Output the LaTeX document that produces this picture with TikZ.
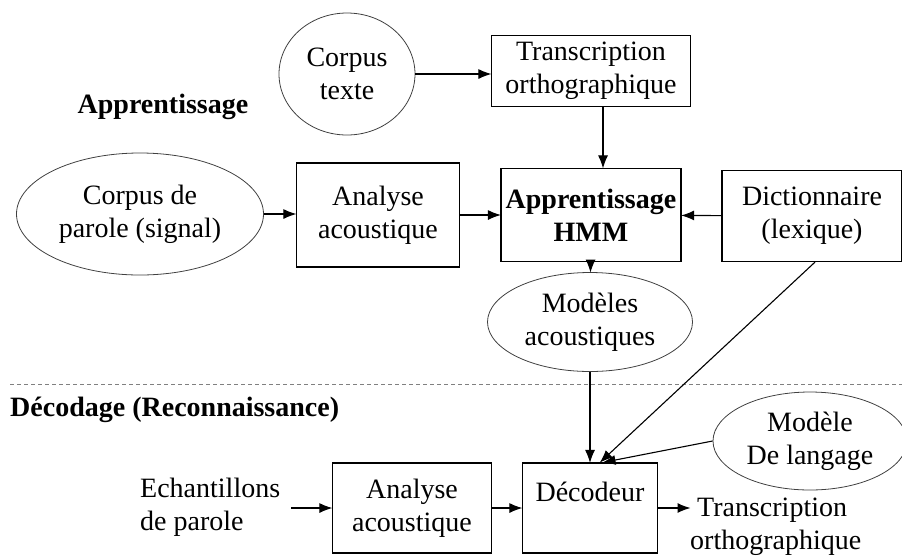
\documentclass[tikz,border=0pt]{standalone}
\usepackage{fontspec}
\setmainfont{Liberation Serif}
\usetikzlibrary{shapes.geometric,arrows.meta}
\tikzset{>={Latex[length=13pt,width=10pt]}}

\begin{document}
\begin{tikzpicture}[x=1pt,y=-1pt,
    every node/.style={font=\fontsize{28}{33}\selectfont, align=center, inner sep=0pt},
    gras/.style={font=\fontsize{28}{33}\selectfont\bfseries},
    boite/.style={draw, line width=1.2pt},
    ovale/.style={draw=black!75, ellipse, line width=0.8pt},
    fleche/.style={->, line width=1.1pt, shorten >=-0.5pt}]
  \useasboundingbox (0,0) rectangle (902,558);
  % apprentissage
  \node[gras] (lblapp) at (163,107) {Apprentissage};
  \node[ovale, minimum width=136pt, minimum height=122pt] (ctexte) at (347,74) {Corpus\\texte};
  \node[boite, minimum width=199pt, minimum height=71pt] (trans) at (591,71) {Transcription\\orthographique};
  \node[ovale, minimum width=247pt, minimum height=122pt] (cparole) at (140,214) {Corpus de\\parole (signal)};
  \node[boite, minimum width=163pt, minimum height=104pt] (ana1) at (378,215) {Analyse\\acoustique};
  \node[boite, gras, minimum width=180pt, minimum height=93pt] (hmm) at (591,215) {Apprentissage\\HMM};
  \node[boite, minimum width=180pt, minimum height=91pt] (dict) at (812,216) {Dictionnaire\\(lexique)};
  \node[ovale, minimum width=205pt, minimum height=99pt] (modac) at (590,322) {Mod\`eles\\acoustiques};
  \draw[fleche] (ctexte.east) -- (ctexte.east -| trans.west);
  \draw[fleche] ([xshift=12pt]trans.south) -- ([xshift=12pt]hmm.north);
  \draw[fleche] (cparole.east) -- (cparole.east -| ana1.west);
  \draw[fleche] (ana1) -- (hmm);
  \draw[fleche] (dict) -- (hmm);
  \draw[fleche] (hmm) -- (modac);
  % separation
  \draw[gray, line width=1pt, dash pattern=on 4pt off 3pt] (10,384) -- (902,384);
  % decodage
  \node[gras, anchor=west] (lbldec) at (10,410) {D\'ecodage (Reconnaissance)};
  \node[ovale, minimum width=194pt, minimum height=98pt] (modlang) at (810,441) {Mod\`ele\\De langage};
  \node[align=left, anchor=west] (ech) at (140,507) {Echantillons\\de parole};
  \node[boite, minimum width=159pt, minimum height=90pt] (ana2) at (412,508) {Analyse\\acoustique};
  \node[boite, minimum width=135pt, minimum height=90pt] (dec) at (590,508) {D\'ecodeur\\~};
  \node[align=left, anchor=west] (trout) at (690,527) {~Transcription\\orthographique};
  \draw[fleche] ([xshift=11pt]ech.east |- ana2.west) -- (ana2.west);
  \draw[fleche] (ana2) -- (dec);
  \draw[fleche] (dec.east) -- (dec.east -| trout.west);
  \draw[fleche] (modac) -- (dec);
  \draw[fleche] ([xshift=3pt]dict.south) -- ([xshift=10pt]dec.north);
  \draw[fleche] (modlang.west) -- ([xshift=13pt]dec.north);
\end{tikzpicture}
\end{document}
